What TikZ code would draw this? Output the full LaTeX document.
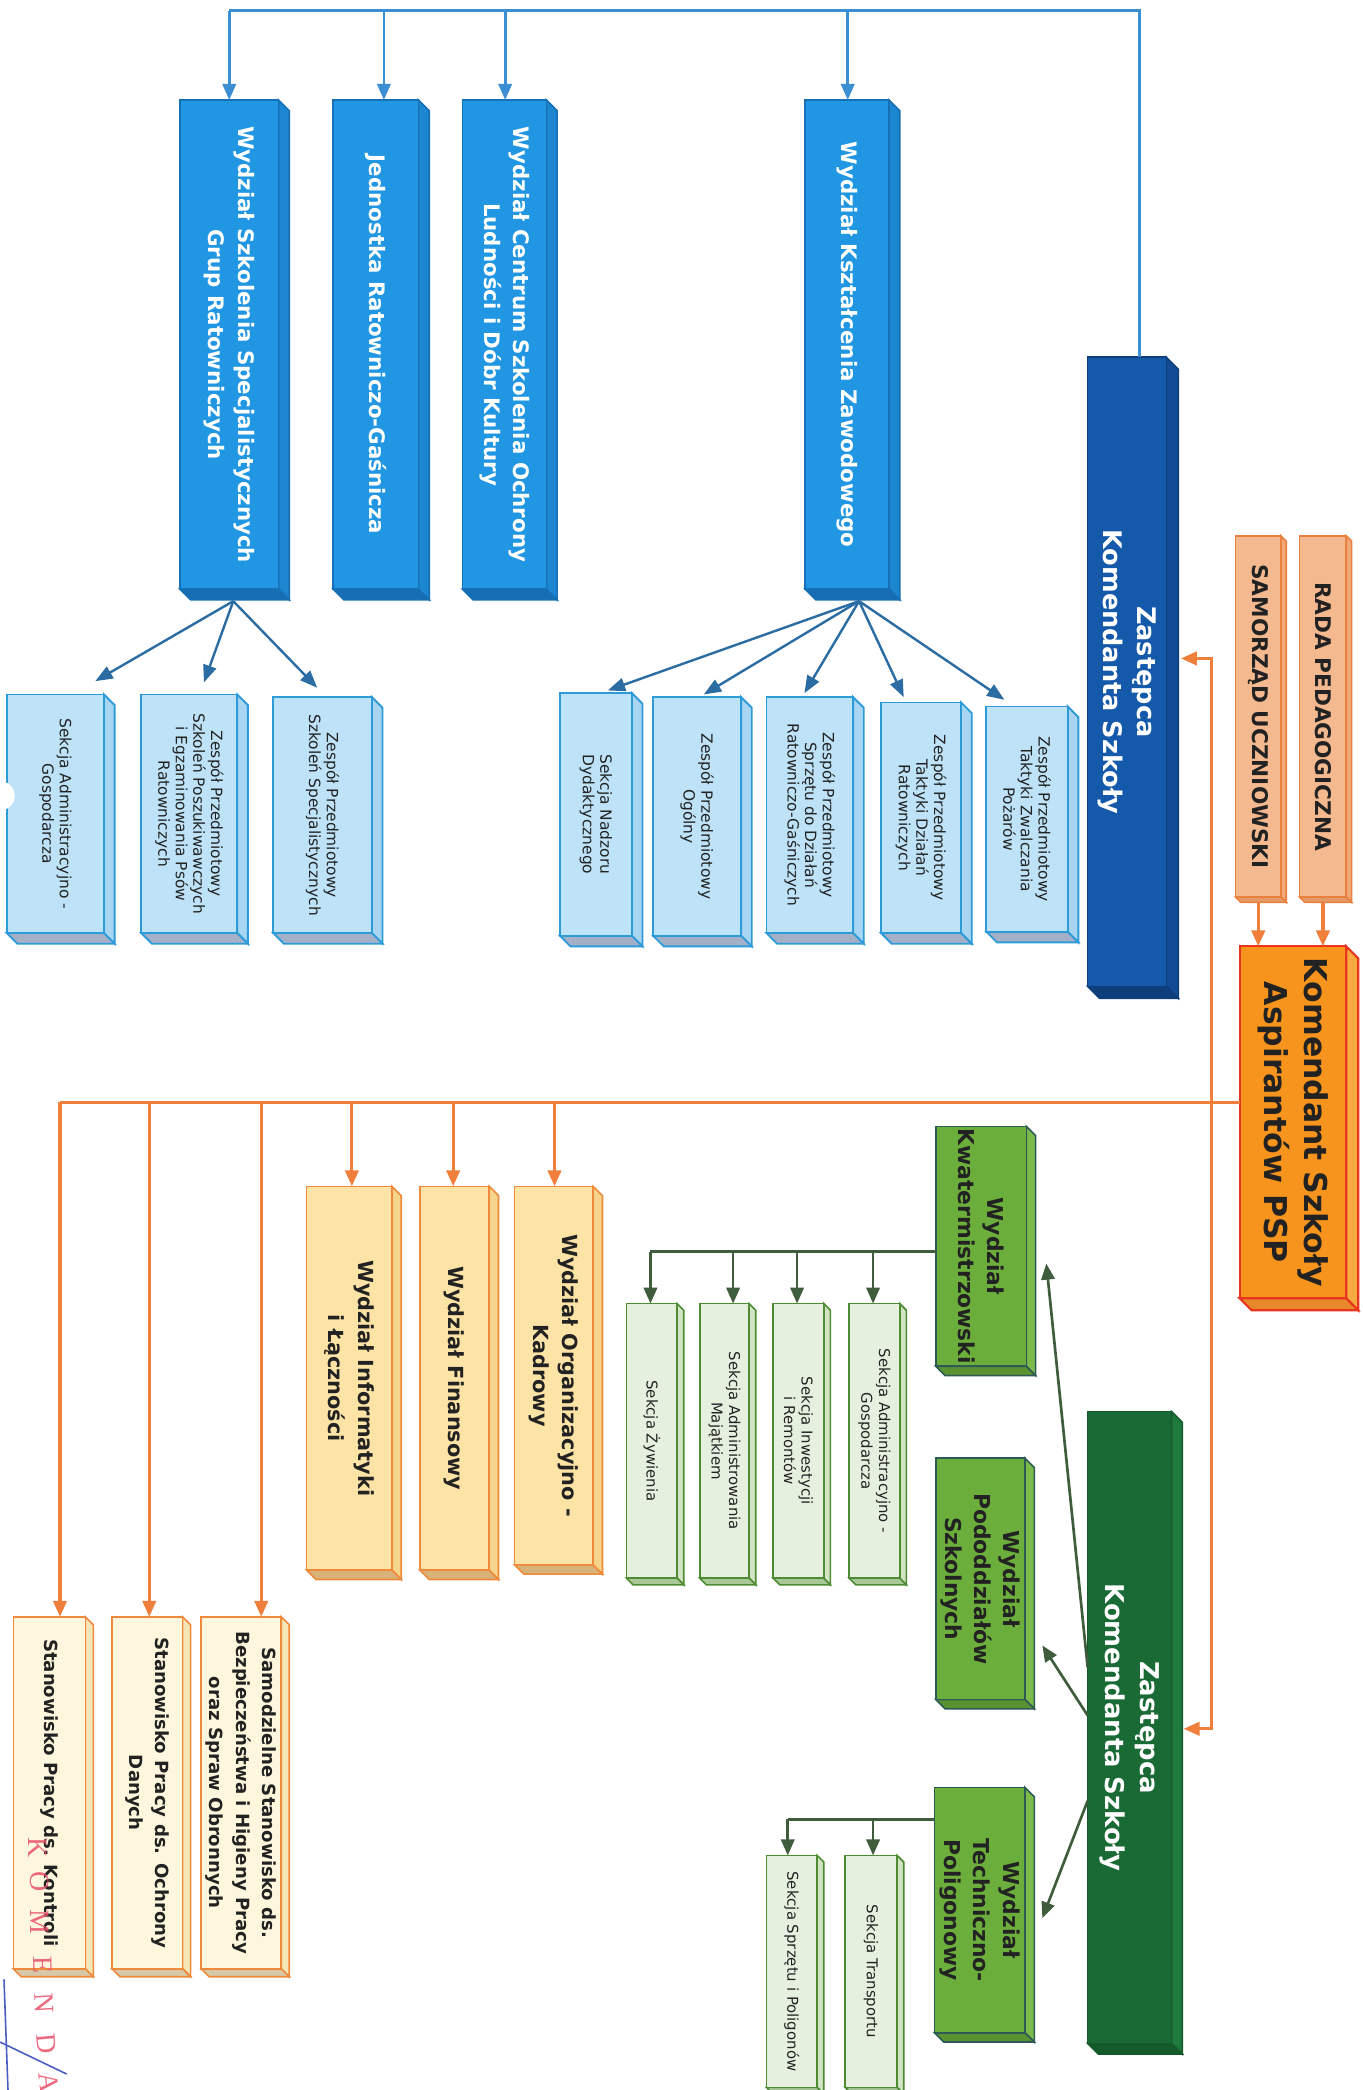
\documentclass[tikz,border=0pt]{standalone}
\usepackage{fontspec}
\setmainfont{DejaVu Sans}
\newfontfamily\stampfont{Liberation Serif}
\usetikzlibrary{arrows.meta,fit,calc}

\definecolor{bbF}{HTML}{2196E2}\definecolor{bbS}{HTML}{1C86D0}\definecolor{bbB}{HTML}{176DB2}\definecolor{bbL}{HTML}{1670B5}
\definecolor{dbF}{HTML}{1559AA}\definecolor{dbS}{HTML}{124C94}\definecolor{dbB}{HTML}{0E3F7C}\definecolor{dbL}{HTML}{0E3F7C}
\definecolor{lbF}{HTML}{BEE3F8}\definecolor{lbS}{HTML}{A8D6F2}\definecolor{lbB}{HTML}{A3B0C8}\definecolor{lbL}{HTML}{2E9BD9}
\definecolor{pcF}{HTML}{F5B990}\definecolor{pcS}{HTML}{F2A878}\definecolor{pcB}{HTML}{E49A68}\definecolor{pcL}{HTML}{E8803E}
\definecolor{orF}{HTML}{F7941D}\definecolor{orS}{HTML}{F8AA40}\definecolor{orB}{HTML}{E8882A}\definecolor{orL}{HTML}{E8351E}
\definecolor{gnF}{HTML}{6CAE3B}\definecolor{gnS}{HTML}{7CBA4A}\definecolor{gnB}{HTML}{5A9232}\definecolor{gnL}{HTML}{2D5A55}
\definecolor{dgF}{HTML}{1A6A36}\definecolor{dgS}{HTML}{1F7A3E}\definecolor{dgB}{HTML}{145A2B}\definecolor{dgL}{HTML}{145A2B}
\definecolor{lgF}{HTML}{E6F0DF}\definecolor{lgS}{HTML}{D2E4C4}\definecolor{lgB}{HTML}{A8C898}\definecolor{lgL}{HTML}{4E8C34}
\definecolor{ywF}{HTML}{FDE3A6}\definecolor{ywS}{HTML}{F7D48C}\definecolor{ywB}{HTML}{D9B27A}\definecolor{ywL}{HTML}{EE8A3A}
\definecolor{crF}{HTML}{FFF7DD}\definecolor{crS}{HTML}{F5E6B8}\definecolor{crB}{HTML}{D8C8A8}\definecolor{crL}{HTML}{EE8A3A}
\definecolor{bluel}{HTML}{3C8FD2}\definecolor{bluedl}{HTML}{2B6CA3}
\definecolor{orangel}{HTML}{F07F3C}\definecolor{greenl}{HTML}{3F5D3C}
\definecolor{darktext}{HTML}{222222}
\definecolor{stampred}{HTML}{E8506A}\definecolor{stampblue}{HTML}{4A5FC0}

\tikzset{
  bb face/.style={fill=bbF, draw=bbL, line width=0.6pt},
  bb side/.style={fill=bbS, draw=bbL, line width=0.6pt},
  bb bot/.style={fill=bbB, draw=bbL, line width=0.6pt},
  bb text/.style={text=white, font=\fontsize{8}{11}\selectfont\bfseries},
  db face/.style={fill=dbF, draw=dbL, line width=0.6pt},
  db side/.style={fill=dbS, draw=dbL, line width=0.6pt},
  db bot/.style={fill=dbB, draw=dbL, line width=0.6pt},
  db text/.style={text=white, font=\fontsize{9.6}{12.5}\selectfont\bfseries},
  lb face/.style={fill=lbF, draw=lbL, line width=0.7pt},
  lb side/.style={fill=lbS, draw=lbL, line width=0.7pt},
  lb bot/.style={fill=lbB, draw=lbL, line width=0.7pt},
  lb text/.style={text=darktext, font=\fontsize{5.8}{6.6}\selectfont},
  pc face/.style={fill=pcF, draw=pcL, line width=0.6pt},
  pc side/.style={fill=pcS, draw=pcL, line width=0.6pt},
  pc bot/.style={fill=pcB, draw=pcL, line width=0.6pt},
  pc text/.style={text=darktext, font=\fontsize{8.1}{10}\selectfont\bfseries},
  or face/.style={fill=orF, draw=orL, line width=0.8pt},
  or side/.style={fill=orS, draw=orL, line width=0.8pt},
  or bot/.style={fill=orB, draw=orL, line width=0.8pt},
  or text/.style={text=darktext, font=\fontsize{11.8}{15}\selectfont\bfseries},
  gn face/.style={fill=gnF, draw=gnL, line width=0.6pt},
  gn side/.style={fill=gnS, draw=gnL, line width=0.6pt},
  gn bot/.style={fill=gnB, draw=gnL, line width=0.6pt},
  gn text/.style={text=darktext, font=\fontsize{8.2}{11}\selectfont\bfseries},
  dg face/.style={fill=dgF, draw=dgL, line width=0.6pt},
  dg side/.style={fill=dgS, draw=dgL, line width=0.6pt},
  dg bot/.style={fill=dgB, draw=dgL, line width=0.6pt},
  dg text/.style={text=white, font=\fontsize{9.7}{13}\selectfont\bfseries},
  lg face/.style={fill=lgF, draw=lgL, line width=0.6pt},
  lg side/.style={fill=lgS, draw=lgL, line width=0.6pt},
  lg bot/.style={fill=lgB, draw=lgL, line width=0.6pt},
  lg text/.style={text=darktext, font=\fontsize{5.6}{6.6}\selectfont},
  yw face/.style={fill=ywF, draw=ywL, line width=0.6pt},
  yw side/.style={fill=ywS, draw=ywL, line width=0.6pt},
  yw bot/.style={fill=ywB, draw=ywL, line width=0.6pt},
  yw text/.style={text=darktext, font=\fontsize{7.8}{11}\selectfont\bfseries},
  cr face/.style={fill=crF, draw=crL, line width=0.6pt},
  cr side/.style={fill=crS, draw=crL, line width=0.6pt},
  cr bot/.style={fill=crB, draw=crL, line width=0.6pt},
  cr text/.style={text=darktext, font=\fontsize{6.8}{10}\selectfont\bfseries},
  bline/.style={draw=bluel, line width=1pt},
  barrow/.style={bline, -{Triangle[length=6pt,width=5pt]}},
  bdarrow/.style={draw=bluedl, line width=0.9pt, -{Triangle[length=6.5pt,width=5pt]}},
  oline/.style={draw=orangel, line width=1.2pt},
  oarrow/.style={oline, -{Triangle[length=6pt,width=5pt]}},
  gline/.style={draw=greenl, line width=1pt},
  garrow/.style={gline, -{Triangle[length=6pt,width=5pt]}},
  stampletter/.style={text=stampred, opacity=0.85, font=\stampfont\fontsize{10.5}{11}\selectfont, inner sep=0pt},
}

% #1 name, #2 family, #3 x1, #4 y1, #5 x2, #6 y2 (face), #7 depth, #8 text
\newcommand{\tdbox}[8]{%
  \path[#2 side] (#5,#4) -- (#5+#7,#4+#7) -- (#5+#7,#6+#7) -- (#5,#6) -- cycle;
  \path[#2 bot] (#3,#6) -- (#3+#7,#6+#7) -- (#5+#7,#6+#7) -- (#5,#6) -- cycle;
  \node[fit={(#3,#4) (#5,#6)}, inner sep=0pt, outer sep=0pt, #2 face] (#1) {};
  \node[#2 text, rotate=-90, align=center, inner sep=0pt] (#1-t) at (#1.center) {#8};
}

\begin{document}
\begin{tikzpicture}[x=0.5pt,y=-0.5pt]
\fill[white] (0,0) rectangle (1022,1568);
\useasboundingbox (0,0) rectangle (1022,1568);

% ---------- blue branch ----------
\tdbox{wssgr}{bb}{135}{75}{209}{442}{8}{Wydział Szkolenia Specjalistycznych\\Grup Ratowniczych}
\tdbox{jrg}{bb}{250}{75}{314}{442}{8}{Jednostka Ratowniczo-Gaśnicza}
\tdbox{wcso}{bb}{347}{75}{410}{442}{8}{Wydział Centrum Szkolenia Ochrony\\Ludności i Dóbr Kultury}
\tdbox{wkz}{bb}{604}{75}{667}{442}{8}{Wydział Kształcenia Zawodowego}
\tdbox{zkb}{db}{816}{268}{875}{740}{9}{Zastępca\\Komendanta Szkoły}

\tdbox{sag1}{lb}{5}{521}{78}{700}{8}{Sekcja Administracyjno -\\Gospodarcza}
\tdbox{zpsp}{lb}{106}{521}{178}{700}{8}{Zespół Przedmiotowy\\Szkoleń Poszukiwawczych\\i Egzaminowania Psów\\Ratowniczych}
\tdbox{zpss}{lb}{205}{523}{279}{700}{8}{Zespół Przedmiotowy\\Szkoleń Specjalistycznych}
\tdbox{snd}{lb}{420}{520}{474}{702}{8}{Sekcja Nadzoru\\Dydaktycznego}
\tdbox{zpo}{lb}{490}{523}{556}{702}{8}{Zespół Przedmiotowy\\Ogólny}
\tdbox{zpsd}{lb}{575}{523}{640}{700}{8}{Zespół Przedmiotowy\\Sprzętu do Działań\\Ratowniczo-Gaśniczych}
\tdbox{zptd}{lb}{661}{527}{721}{700}{8}{Zespół Przedmiotowy\\Taktyki Działań\\Ratowniczych}
\tdbox{zptz}{lb}{740}{530}{801}{699}{8}{Zespół Przedmiotowy\\Taktyki Zwalczania\\Pożarów}
\node[circle, fill=white, minimum size=11pt, inner sep=0pt] (hole) at (0,597) {};

% ---------- top / head ----------
\tdbox{rada}{pc}{975}{402}{1010}{673}{4}{RADA PEDAGOGICZNA}
\tdbox{sam}{pc}{927}{402}{961}{673}{4}{SAMORZĄD UCZNIOWSKI}
\tdbox{kom}{or}{930}{710}{1010}{974}{9}{Komendant Szkoły\\Aspirantów PSP}

% ---------- green branch ----------
\tdbox{kw}{gn}{702}{845}{770}{1025}{7}{Wydział\\Kwatermistrzowski}
\tdbox{pod}{gn}{702}{1094}{769}{1275}{7}{Wydział\\Pododdziałów\\Szkolnych}
\tdbox{tech}{gn}{701}{1341}{769}{1525}{7}{Wydział\\Techniczno-\\Poligonowy}
\tdbox{zkg}{dg}{816}{1059}{879}{1533}{8}{Zastępca\\Komendanta Szkoły}
\tdbox{szyw}{lg}{470}{978}{508}{1184}{5}{Sekcja Żywienia}
\tdbox{sam2}{lg}{525}{978}{562}{1184}{5}{Sekcja Administrowania\\Majątkiem}
\tdbox{sir}{lg}{580}{978}{618}{1184}{5}{Sekcja Inwestycji\\i Remontów}
\tdbox{sag2}{lg}{637}{978}{675}{1184}{5}{Sekcja Administracyjno -\\Gospodarcza}
\tdbox{stra}{lg}{634}{1392}{673}{1566}{5}{Sekcja Transportu}
\tdbox{sspp}{lg}{575}{1392}{613}{1566}{5}{Sekcja Sprzętu i Poligonów}

% ---------- orange branch ----------
\tdbox{inf}{yw}{230}{890}{294}{1178}{7}{Wydział Informatyki\\i Łączności}
\tdbox{fin}{yw}{315}{890}{367}{1178}{7}{Wydział Finansowy}
\tdbox{org}{yw}{386}{890}{445}{1174}{7}{Wydział Organizacyjno -\\Kadrowy}
\tdbox{kon}{cr}{10}{1213}{64}{1477}{6}{Stanowisko Pracy ds. Kontroli}
\tdbox{ochr}{cr}{84}{1213}{137}{1477}{6}{Stanowisko Pracy ds. Ochrony\\Danych}
\tdbox{samo}{cr}{151}{1213}{211}{1477}{6}{Samodzielne Stanowisko ds.\\Bezpieczeństwa i Higieny Pracy\\oraz Spraw Obronnych}

% ---------- blue connectors ----------
\coordinate (bT) at (855,8);
\coordinate (bL) at (172,8);
\draw[bline] (zkb.north -| bT) -- (bT) -- (bL);
\draw[barrow] (bL) -- (bL |- wssgr.north);
\draw[barrow] (288,8) -- (288,8 |- jrg.north);
\draw[barrow] (379,8) -- (379,8 |- wcso.north);
\draw[barrow] (636,8) -- (636,8 |- wkz.north);

\coordinate (wkzS) at ($(wkz.south)+(9,9)$);
\draw[bdarrow] (wkzS) -- ($(snd.north)+(9,-2)$);
\draw[bdarrow] (wkzS) -- ($(zpo.north)+(5,-2)$);
\draw[bdarrow] (wkzS) -- ($(zpsd.north)+(-4,-3)$);
\draw[bdarrow] (wkzS) -- ($(zptd.north)+(-13,-4)$);
\draw[bdarrow] (wkzS) -- ($(zptz.north)+(-17,-5)$);

\coordinate (wssgrS) at ($(wssgr.south)+(3,9)$);
\draw[bdarrow] (wssgrS) -- ($(sag1.north)+(30,-10)$);
\draw[bdarrow] (wssgrS) -- ($(zpsp.north)+(11,-9)$);
\draw[bdarrow] (wssgrS) -- ($(zpss.north)+(-4,-7)$);

% ---------- orange connectors ----------
\draw[oarrow] ($(rada.south)+(0,4)$) -- (rada.south |- kom.north);
\draw[oarrow] ($(sam.south)+(0,4)$) -- (sam.south |- kom.north);
\coordinate (oJ) at (909,827);
\coordinate (oL) at (45,827);
\draw[oline] (kom.west |- oJ) -- (oL);
\draw[oarrow] (oJ) |- ($(zkb.east)+(11,-10)$);
\draw[oarrow] (oJ) |- ($(zkg.east)+(9,1)$);
\draw[oarrow] (oL) -- (oL |- kon.north);
\draw[oarrow] (112,827) -- (112,827 |- ochr.north);
\draw[oarrow] (196,827) -- (196,827 |- samo.north);
\draw[oarrow] (264,827) -- (264,827 |- inf.north);
\draw[oarrow] (340,827) -- (340,827 |- fin.north);
\draw[oarrow] (416,827) -- (416,827 |- org.north);

% ---------- green connectors ----------
\draw[garrow] ($(zkg.west)+(0,-45)$) -- ($(kw.east)+(15,13)$);
\draw[garrow] ($(zkg.west)+(0,-9)$) -- ($(pod.east)+(13,50)$);
\draw[garrow] ($(zkg.west)+(0,55)$) -- ($(tech.east)+(13,6)$);

\coordinate (kwB) at ($(kw.west)+(0,4)$);
\draw[gline] (kwB) -- (488,939);
\draw[garrow] (488,939) -- (488,939 |- szyw.north);
\draw[garrow] (550,939) -- (550,939 |- sam2.north);
\draw[garrow] (598,939) -- (598,939 |- sir.north);
\draw[garrow] (655,939) -- (655,939 |- sag2.north);

\coordinate (tcB) at (tech.west |- 0,1365);
\draw[gline] (tcB) -- (591,1365);
\draw[garrow] (591,1365) -- (591,1365 |- sspp.north);
\draw[garrow] (655,1365) -- (655,1365 |- stra.north);

% ---------- stamp remnants ----------
\node[stampletter, rotate=-90] (stK) at (28,1386) {K};
\node[stampletter, rotate=-90] (stO) at (30,1412) {O};
\node[stampletter, rotate=-90] (stM) at (30,1442) {M};
\node[stampletter, rotate=-89] (stE) at (32,1474) {E};
\node[stampletter, rotate=-87] (stN) at (33,1503) {N};
\node[stampletter, rotate=-85] (stD) at (35,1533) {D};
\node[stampletter, rotate=-83] (stA) at (37,1562) {A};
\coordinate (sbA) at (3,1485);
\coordinate (sbB) at (6,1568);
\coordinate (sbC) at (0,1532);
\coordinate (sbD) at (50,1556);
\draw[stampblue, line width=0.6pt] (sbA) -- (sbB);
\draw[stampblue, line width=0.6pt] (sbC) -- (sbD);
\end{tikzpicture}
\end{document}
